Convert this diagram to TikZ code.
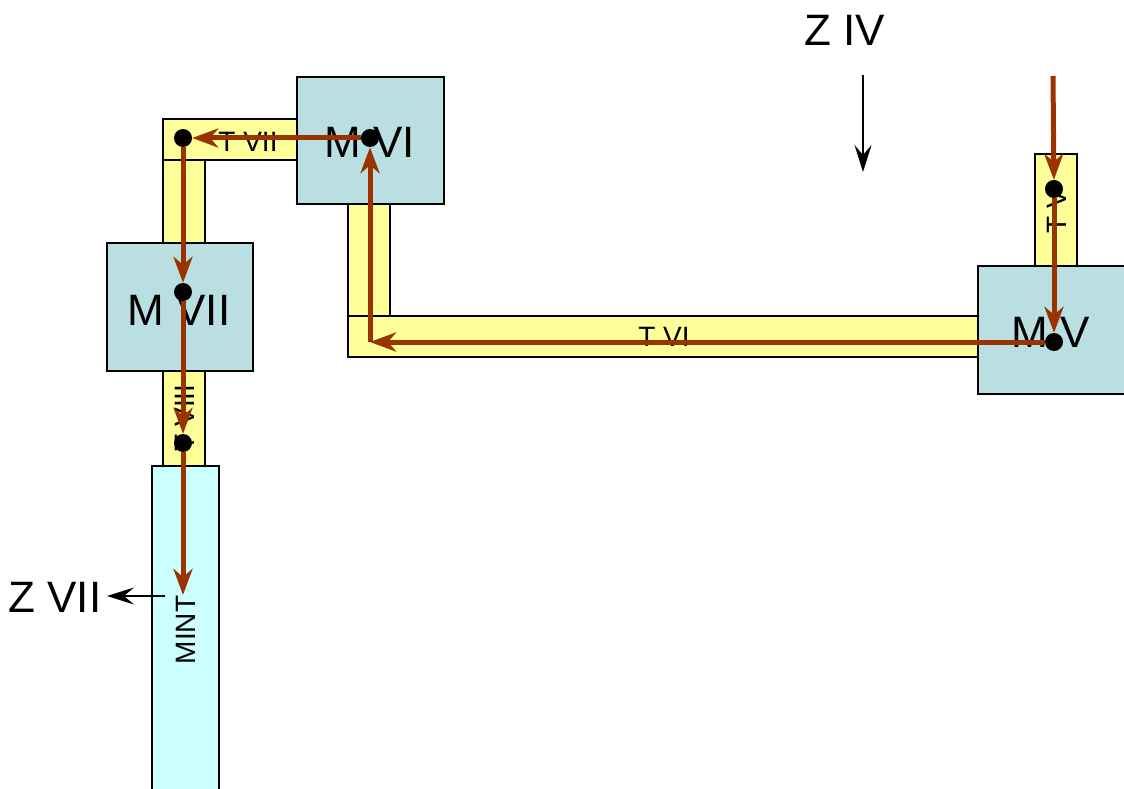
\documentclass[tikz,border=0pt]{standalone}
\usepackage{fontspec}
\setmainfont{Liberation Sans}
\usetikzlibrary{arrows.meta}
\definecolor{room}{HTML}{B9DFE3}
\definecolor{tube}{HTML}{FFFF99}
\definecolor{mint}{HTML}{CCFFFF}
\definecolor{flow}{HTML}{993300}
\tikzset{
  box/.style={draw, line width=1.2pt, fill=room},
  duct/.style={draw, line width=1.2pt, fill=tube},
  big/.style={font=\fontsize{44}{50}\selectfont, inner sep=0pt},
  small/.style={font=\fontsize{28}{32}\selectfont, inner sep=0pt},
  dot/.style={circle, fill=black, inner sep=0pt, minimum size=18pt},
  flowline/.style={flow, line width=5pt, -{Stealth[length=26pt,width=19pt,inset=8pt]}},
  zarrow/.style={line width=2pt, -{Stealth[length=27pt,width=17pt,inset=10pt]}}
}
\begin{document}
\begin{tikzpicture}[x=1pt, y=-1pt]
  \clip (0,0) rectangle (1124,789);
  \draw[duct] (163,119) rectangle (297,160);
  \draw[duct] (163,160) rectangle (205,243);
  \draw[duct] (348,204) rectangle (390,316);
  \draw[duct] (348,316) rectangle (978,357);
  \draw[duct] (1035,154) rectangle (1077,266);
  \draw[duct] (163,371) rectangle (205,466);
  \draw[box, fill=mint] (152,466) rectangle (219,800);
  \draw[box] (297,77) rectangle (444,204);
  \draw[box] (107,243) rectangle (253,371);
  \draw[box] (978,266) rectangle (1140,394);
  \node[big] (lmvi) at (370,142) {M VI};
  \node[big] (lmvii) at (179,310) {M VII};
  \node[big] (lmv) at (1051,332) {M V};
  \node[big] (lziv) at (845,30) {Z IV};
  \node[big] (lzvii) at (55,597) {Z VII};
  \node[small] (ltvii) at (248,142) {T VII};
  \node[small] (ltvi) at (664,337) {T VI};
  \node[small, rotate=90] (ltv) at (1057,212) {T V};
  \node[small, rotate=90] (ltviii) at (185,418) {T VIII};
  \node[small, rotate=90] (lmint) at (186,630) {MINT};
  \coordinate (ivfrom) at (863,75);
  \coordinate (ivto) at (863,172);
  \coordinate (viifrom) at (165,596);
  \coordinate (viito) at (107,596);
  \draw[zarrow] (ivfrom) -- (ivto);
  \draw[zarrow] (viifrom) -- (viito);
  \node[dot] (tvii) at (183,138) {};
  \node[dot] (mvi) at (370,138) {};
  \node[dot] (mvii) at (183,292) {};
  \node[dot] (tviii) at (183,443) {};
  \node[dot] (tv) at (1054,189) {};
  \node[dot] (mv) at (1054,342) {};
  \coordinate (vin) at (1053,76);
  \coordinate (bend) at (370,342);
  \coordinate (mintend) at (183,595);
  \draw[flowline] (vin) -- (tv);
  \draw[flowline] (tv) -- (mv);
  \draw[flowline] (mv) -- (bend);
  \draw[flowline] (bend) -- (mvi);
  \draw[flowline] (mvi) -- (tvii);
  \draw[flowline] (tvii) -- (mvii);
  \draw[flowline] (mvii) -- (tviii);
  \draw[flowline] (tviii) -- (mintend);
\end{tikzpicture}
\end{document}
